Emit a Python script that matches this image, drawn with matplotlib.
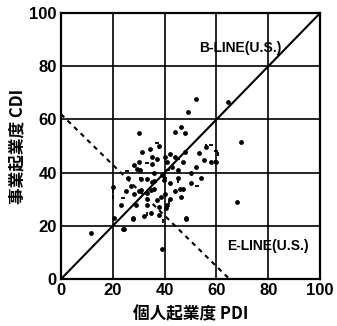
import numpy as np
import matplotlib
matplotlib.use("Agg")
import matplotlib.pyplot as plt

# scatter points (PDI, CDI)
pdi_dot = [52, 64.5, 49, 30, 44, 46.4, 48, 69.5, 68, 11.5, 48.3, 39, 24, 27.6, 34.4,
           31.4, 53.2, 56, 55, 58, 60, 35.3, 28.2, 37, 40, 42, 44, 48, 29.5, 30.5,
           45, 31, 33, 35, 36, 39.7, 45, 46, 47, 19.9, 28, 30, 30.8, 33, 34.6,
           37, 38.5, 46.2, 23, 28.8, 32, 34.6, 37.8, 40.4, 41, 27.8, 24.4, 20.5, 48.1, 38,
           41, 43, 50, 52, 54, 26, 27, 36, 39, 42, 44, 36, 40, 25, 33,
           35, 47, 50, 38, 42, 30, 33]
cdi_dot = [67.7, 66.7, 62.7, 55, 55.4, 57, 55, 51.6, 29, 17.5, 22.6, 11.2, 18.7, 22.4, 49,
           47.6, 47.5, 49.7, 44.7, 44, 44, 43.2, 42.9, 45, 46, 47, 46, 47.9, 41.5, 41,
           41, 37.5, 37.5, 36.5, 37, 37.2, 38, 34, 34, 34.7, 32, 33, 33.5, 32.5, 33.5,
           29.7, 31, 31, 28, 27.8, 23.7, 24.7, 24, 26.7, 27.8, 22.8, 19, 22.8, 22.8, 50,
           44, 42, 40, 42, 38, 38, 35, 40, 39, 36, 33, 34, 32, 33, 28,
           46, 44, 36, 27, 30, 44, 30]

# short horizontal dash marks
pdi_hdash = [25.5, 24, 33, 41.3, 52.5, 58, 37, 45, 31, 40, 60]
cdi_hdash = [40.6, 30.6, 43.7, 41, 35, 50.5, 51, 45, 38, 38, 48]

# short vertical dash marks
pdi_vdash = [38, 20, 20, 41.5, 60.5, 56, 33, 39.5, 45, 59.5]
cdi_vdash = [49.8, 33, 31, 29, 47, 50, 24.5, 22, 37, 44]

# reference lines
b_line_x = [0, 100]
b_line_y = [0, 100]
e_line_x = [0, 65]
e_line_y = [62, 0]

ticks = [0, 20, 40, 60, 80, 100]

plt.rcParams['font.family'] = ['Liberation Sans', 'Noto Sans CJK JP', 'DejaVu Sans']

fig = plt.figure(figsize=(3.37, 3.26), dpi=100)
ax = fig.add_axes([0.181, 0.144, 0.769, 0.816])

ax.set_xlim(0, 100)
ax.set_ylim(0, 100)
ax.set_xticks(ticks)
ax.set_yticks(ticks)
ax.set_xticklabels(['0', '20', '40', '60', '80', '100'])
ax.set_yticklabels(['0', '20', '40', '60', '80', '100'])
ax.grid(True, color='black', linewidth=1.2)
ax.set_axisbelow(True)
ax.tick_params(length=0, labelsize=12, pad=3)
for lbl in ax.get_xticklabels() + ax.get_yticklabels():
    lbl.set_fontweight('bold')
for s in ax.spines.values():
    s.set_linewidth(1.6)

# B-line and E-line
ax.plot(b_line_x, b_line_y, color='black', linewidth=1.5)
ax.plot(e_line_x, e_line_y, color='black', linewidth=1.5, linestyle=(0, (2.2, 2.2)))

# scatter
ax.scatter(pdi_dot, cdi_dot, s=6, color='black', zorder=3)
ax.scatter(pdi_hdash, cdi_hdash, s=12, marker='_', color='black', linewidths=1.3, zorder=3)
ax.scatter(pdi_vdash, cdi_vdash, s=12, marker='|', color='black', linewidths=1.3, zorder=3)

ax.text(69, 87, 'B-LINE(U.S.)', ha='center', va='center', fontsize=10,
        fontweight='bold')
ax.text(80, 12.5, 'E-LINE(U.S.)', ha='center', va='center', fontsize=10,
        fontweight='bold')

ax.set_xlabel('個人起業度 PDI', fontsize=12, fontweight='bold',
              family=['Noto Sans CJK JP', 'DejaVu Sans'], labelpad=5)
ax.set_ylabel('事業起業度 CDI', fontsize=12, fontweight='bold',
              family=['Noto Sans CJK JP', 'DejaVu Sans'], labelpad=2)

fig.savefig('out.png', dpi=100)
